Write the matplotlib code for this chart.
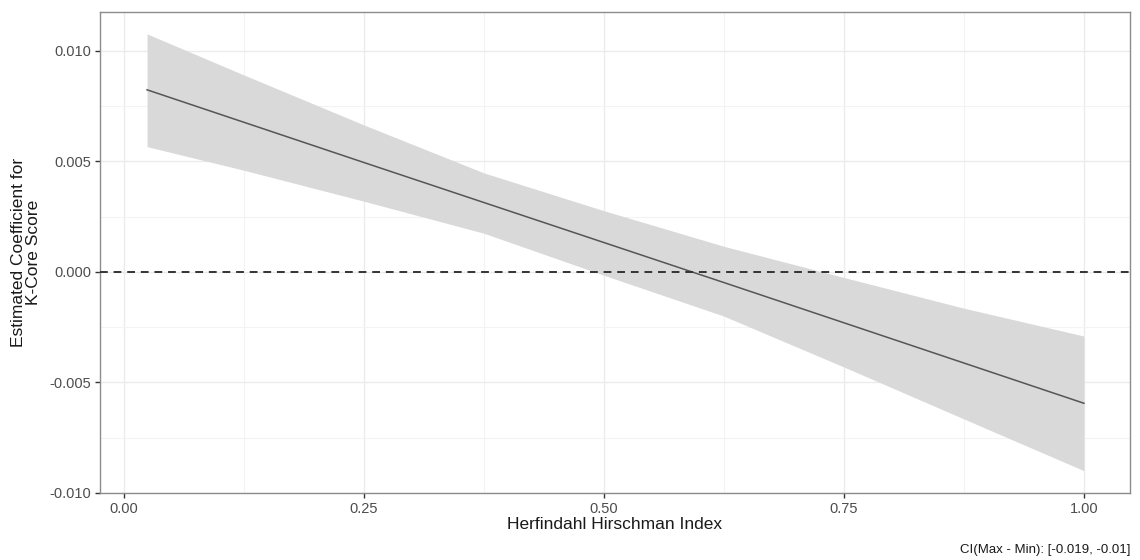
import matplotlib
matplotlib.use("Agg")
import matplotlib.pyplot as plt
from matplotlib.ticker import MultipleLocator, FixedLocator

# Data
hhi = [0.024, 0.125, 0.25, 0.375, 0.5, 0.625, 0.75, 0.875, 1.0]
estimate = [0.00824, 0.00677, 0.00495, 0.00314, 0.00133, -0.00048, -0.00230, -0.00412, -0.00594]
ci_upper = [0.01077, 0.00891, 0.00665, 0.00448, 0.00277, 0.00116, -0.00025, -0.00164, -0.00290]
ci_lower = [0.00567, 0.00460, 0.00320, 0.00175, -0.00015, -0.00200, -0.00430, -0.00665, -0.00899]

x_ticks = [0.00, 0.25, 0.50, 0.75, 1.00]
x_ticklabels = ["0.00", "0.25", "0.50", "0.75", "1.00"]
y_ticks = [-0.010, -0.005, 0.000, 0.005, 0.010]
y_ticklabels = ["-0.010", "-0.005", "0.000", "0.005", "0.010"]
caption = "CI(Max - Min): [-0.019, -0.01]"

plt.rcParams['font.family'] = ['Liberation Sans', 'DejaVu Sans']

fig = plt.figure(figsize=(11.4, 5.6), dpi=100)
ax = fig.add_axes([100/1140, 67/560, 1030/1140, 481/560])

ax.fill_between(hhi, ci_lower, ci_upper, color="#d9d9d9", linewidth=0, zorder=2)
ax.plot(hhi, estimate, color="#555555", linewidth=1.1, zorder=3)
ax.axhline(0, color="#333333", linewidth=1.4, linestyle=(0, (4, 3)), zorder=4)

ax.set_xlim(-0.025, 1.048)
ax.set_ylim(-0.010, 0.01176)

ax.xaxis.set_major_locator(FixedLocator(x_ticks))
ax.set_xticklabels(x_ticklabels)
ax.yaxis.set_major_locator(FixedLocator(y_ticks))
ax.set_yticklabels(y_ticklabels)
ax.xaxis.set_minor_locator(MultipleLocator(0.125))
ax.yaxis.set_minor_locator(MultipleLocator(0.0025))

ax.grid(which="major", color="#ebebeb", linewidth=1.0, zorder=0)
ax.grid(which="minor", color="#f3f3f3", linewidth=0.8, zorder=0)
ax.set_axisbelow(True)

for s in ax.spines.values():
    s.set_color("#8c8c8c")
    s.set_linewidth(1.0)

ax.tick_params(axis="both", which="major", length=3.5, width=1.0, color="#333333",
               labelsize=10.5, labelcolor="#4d4d4d", pad=3)
ax.tick_params(axis="both", which="minor", length=0)

ax.set_xlabel("Herfindahl Hirschman Index", fontsize=12.5, color="#1a1a1a", labelpad=1)
ax.set_ylabel("Estimated Coefficient for\nK-Core Score", fontsize=12.5, color="#1a1a1a",
              labelpad=6, linespacing=0.95)

fig.text(1130/1140, 1 - 550/560, caption, ha="right", va="center", fontsize=9.5, color="#1a1a1a")

fig.savefig("out.png", dpi=100)
